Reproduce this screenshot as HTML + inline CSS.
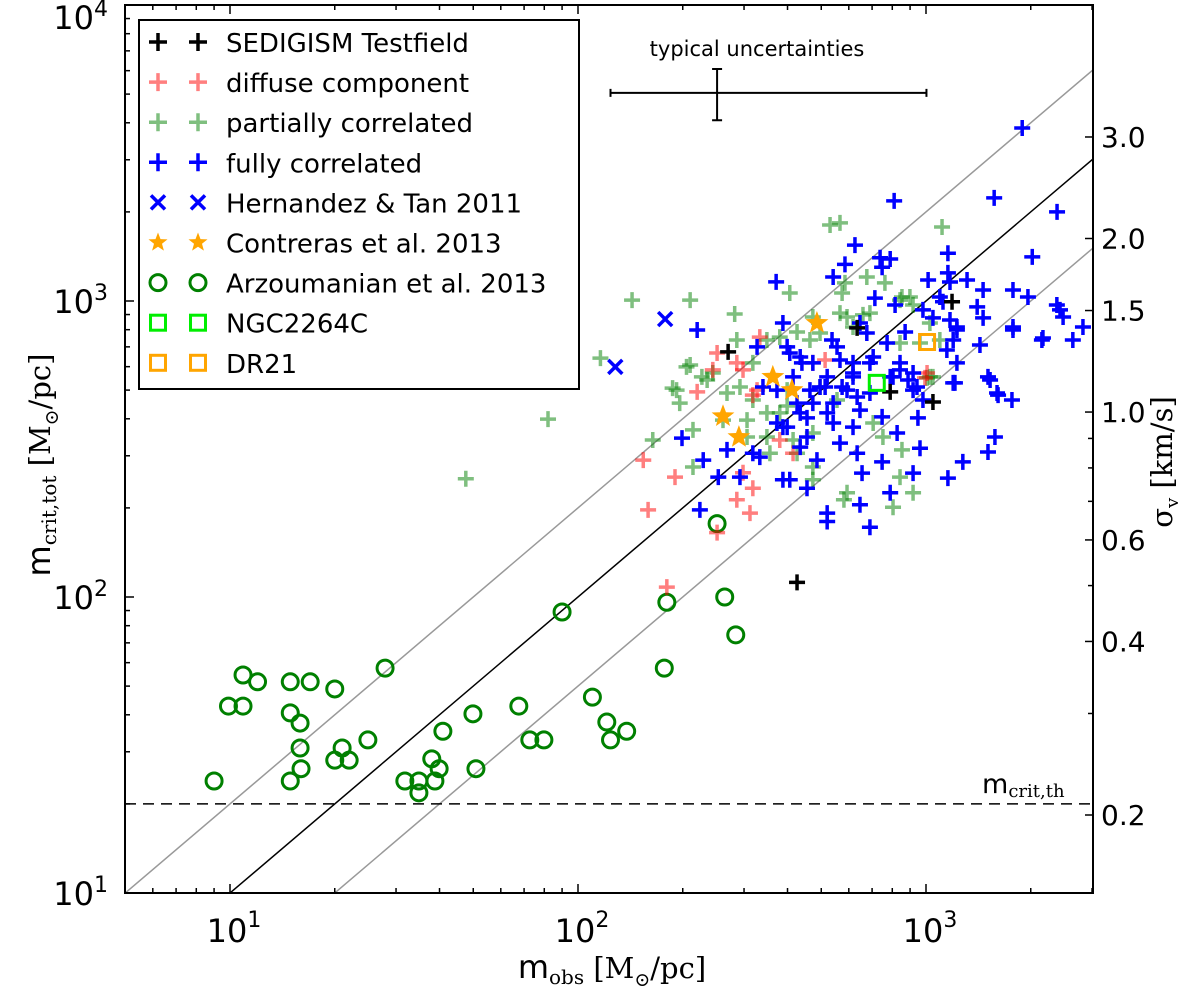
<!DOCTYPE html>
<html><head><meta charset="utf-8">
<style>
html,body{margin:0;padding:0;background:#fff;overflow:hidden;width:1200px;height:995px;}
svg{display:block;}
text{font-family:"DejaVu Sans","Liberation Sans",sans-serif;}
.serif{font-family:"DejaVu Serif","Liberation Serif",serif;}
</style></head>
<body>
<svg id="chart" width="1200" height="995" viewBox="0 0 1200 995" xmlns="http://www.w3.org/2000/svg">
<g id="marks"></g>
<g id="axes"></g>
</svg>
<script>
// ---- data ----
const xTicks = [10, 100, 1000];
const xTickLabels = ["1", "2", "3"];
const yTicks = [10, 100, 1000, 10000];
const yTickLabels = ["1", "2", "3", "4"];
const sigmaTicks = [0.2, 0.4, 0.6, 1.0, 1.5, 2.0, 3.0];
const sigmaTickLabels = ["0.2", "0.4", "0.6", "1.0", "1.5", "2.0", "3.0"];
const sigmaMinor = [0.3, 0.5, 0.7, 0.8, 0.9];
const mcritTh = 20;

const sedigism = [[270,673],[634,811],[1188,994],[1047,456],[789,493],[426,112]];
const diffuse = [[251,667],[333,755],[286,618],[244,585],[298,585],[220,493],[327,500],[473,618],[513,632],[1007,571],[154,290],[190,254],[159,197],[286,213],[312,192],[318,233],[298,263],[251,165],[180,108],[415,306],[380,339],[318,481],[993,550]];
const partial = [[143,1007],[210,1007],[282,904],[116,641],[530,1807],[566,1837],[406,1064],[1112,1778],[585,1151],[676,1205],[762,1151],[574,1064],[853,1032],[899,1032],[593,883],[659,898],[286,738],[210,608],[227,554],[187,508],[426,786],[464,738],[496,780],[1026,554],[961,721],[1096,738],[842,721],[192,500],[196,452],[205,599],[164,339],[214,367],[214,275],[235,541],[261,396],[306,396],[306,347],[318,463],[292,512],[349,419],[349,347],[356,306],[380,419],[415,339],[426,306],[399,442],[473,275],[473,249],[593,225],[581,213],[804,201],[918,225],[842,254],[853,314],[752,347],[705,387],[555,463],[496,512],[473,358],[318,618],[349,738],[380,755],[473,883],[566,910],[617,817],[690,910],[842,1007],[918,969],[1026,843],[1007,550],[1047,554],[399,500],[268,489],[244,571],[82,399],[47.6,251]];
const fully = [[1890,3840],[810,2180],[1570,2230],[2380,2000],[625,1545],[1156,1450],[2020,1410],[585,1330],[738,1400],[789,1387],[748,1300],[371,1160],[541,1205],[1014,1178],[1156,1244],[1172,1159],[1312,1178],[1459,1089],[1778,1089],[1963,1032],[713,1023],[815,969],[1096,1032],[1119,994],[980,933],[1047,877],[1403,955],[1459,877],[2377,969],[2477,883],[2825,817],[1778,817],[2168,750],[2642,738],[1227,817],[1197,738],[1429,710],[1148,683],[1227,618],[1197,529],[1507,554],[1600,489],[1766,463],[220,798],[388,843],[646,843],[676,780],[871,786],[773,721],[537,738],[555,700],[327,700],[399,700],[435,647],[473,618],[617,618],[690,618],[842,618],[918,571],[617,554],[789,554],[942,512],[340,512],[464,500],[513,512],[574,512],[634,474],[1172,863],[1227,798],[1778,798],[2427,933],[2153,738],[1211,529],[1528,541],[1611,481],[1578,347],[1507,309],[1276,286],[1156,252],[961,318],[918,262],[948,403],[826,358],[789,225],[748,406],[748,286],[655,262],[690,172],[646,205],[520,192],[520,180],[455,233],[406,249],[388,249],[486,290],[566,331],[617,375],[634,306],[541,387],[520,419],[455,347],[435,321],[399,375],[373,387],[333,297],[318,306],[292,254],[253,254],[229,290],[268,314],[199,344],[224,197],[373,500],[388,375],[435,419],[473,452],[496,512],[541,452],[593,500],[617,571],[646,428],[690,489],[804,554],[842,585],[888,541],[918,500],[980,463],[705,647],[566,632],[520,554],[415,554],[426,452],[406,667],[440,618],[455,403]];
const hernandez = [[178,869],[128,599]];
const contreras = [[486,843],[363,554],[412,500],[261,408],[290,347]];
const arzoumanian = [[9.0,23.9],[9.9,42.8],[10.9,42.8],[10.9,54.5],[12.0,51.7],[14.9,51.7],[17.0,51.7],[20.0,48.9],[27.9,57.5],[14.9,40.6],[15.9,37.5],[15.9,30.9],[16.0,26.3],[14.9,23.9],[20.0,28.1],[21.0,30.9],[22.0,28.1],[24.9,32.9],[31.8,23.9],[34.9,23.9],[34.9,21.8],[38.0,28.4],[39.9,26.3],[38.8,23.9],[40.9,35.2],[49.9,40.3],[50.9,26.3],[67.6,42.8],[72.7,32.9],[79.8,32.9],[90,89],[110,45.9],[121,37.8],[124,32.9],[138,35.2],[177,57.5],[180,96],[264,100],[284,74.5],[251,177]];
const ngc2264c = [[722,529]];
const dr21 = [[1007,727]];
const uncertaintyCenter = [251, 5050];
const uncertaintyX = [124, 1003];
const uncertaintyY = [4080, 6080];

// ---- scales ----
const L=125, R=1093, T=5, B=893;
const X = v => 230 + (Math.log10(v) - 1) * 348;
const Y = v => B - (Math.log10(v) - 1) * 296;
const S = s => 815 - (Math.log10(s) - Math.log10(0.2)) * 576.5;
const NS = "http://www.w3.org/2000/svg";
const marks = document.getElementById('marks');
const axes = document.getElementById('axes');
function mk(tag, attrs, parent){
  const e = document.createElementNS(NS, tag);
  for (const k in attrs) e.setAttribute(k, attrs[k]);
  (parent||marks).appendChild(e); return e;
}
const defs = mk('defs', {}, document.getElementById('chart'));
const cp = mk('clipPath', {id:'clip'}, defs);
mk('rect', {x:L, y:T, width:R-L, height:B-T}, cp);
marks.setAttribute('clip-path', 'url(#clip)');

function refLine(f, col, name){
  const x0 = 4, x1 = 4000;
  const l = mk('line', {x1:X(x0), y1:Y(f*x0), x2:X(x1), y2:Y(f*x1), stroke:col, 'stroke-width':1.5});
  
  
}
refLine(2, '#999', 'upper-factor-line');
refLine(0.5, '#999', 'lower-factor-line');
refLine(1, '#000', 'one-to-one-line');
const dl = mk('line', {x1:L, y1:Y(mcritTh), x2:R, y2:Y(mcritTh), stroke:'#000', 'stroke-width':1.5, 'stroke-dasharray':'11,7'});



function plus(cx, cy, col, op, g, sz){
  sz = sz || 8;
  return mk('path', {d:`M${cx-sz},${cy}H${cx+sz}M${cx},${cy-sz}V${cy+sz}`, stroke:col, 'stroke-width':3.5, 'stroke-opacity':op, fill:'none'}, g);
}
function cross(cx, cy, col, g){
  return mk('path', {d:`M${cx-7},${cy-7}L${cx+7},${cy+7}M${cx+7},${cy-7}L${cx-7},${cy+7}`, stroke:col, 'stroke-width':3.5, fill:'none'}, g);
}
function star(cx, cy, r, col, g){
  let d = '';
  for (let i=0;i<10;i++){
    const a = -Math.PI/2 + i*Math.PI/5, rr = i%2 ? r*0.42 : r;
    d += (i? 'L':'M') + (cx + rr*Math.cos(a)).toFixed(1) + ',' + (cy + rr*Math.sin(a)).toFixed(1);
  }
  return mk('path', {d:d+'Z', fill:col, stroke:'none'}, g);
}
function circ(cx, cy, col, g){ return mk('circle', {cx:cx, cy:cy, r:8, fill:'none', stroke:col, 'stroke-width':3}, g); }
function sq(cx, cy, col, g){ return mk('rect', {x:cx-7.5, y:cy-7.5, width:15, height:15, fill:'none', stroke:col, 'stroke-width':3}, g); }

function series(name){ const g = mk('g', {});   return g; }

let g;
g = series('arzoumanian-series');
arzoumanian.forEach(p => { const e = circ(X(p[0]), Y(p[1]), '#008000', g);
  
   });
g = series('partially-correlated-series');
partial.forEach(p => { const e = plus(X(p[0]), Y(p[1]), '#008000', 0.5, g);
  
   });
g = series('diffuse-series');
diffuse.forEach(p => { const e = plus(X(p[0]), Y(p[1]), '#ff0000', 0.5, g);
  
   });
g = series('fully-correlated-series');
fully.forEach(p => { const e = plus(X(p[0]), Y(p[1]), '#0000ff', 1, g);
  
   });
g = series('sedigism-series');
sedigism.forEach(p => { const e = plus(X(p[0]), Y(p[1]), '#000', 1, g);
  
   });
g = series('hernandez-series');
hernandez.forEach(p => { const e = cross(X(p[0]), Y(p[1]), '#0000ff', g);
  
   });
g = series('contreras-series');
contreras.forEach(p => { const e = star(X(p[0]), Y(p[1]), 12, '#ffa500', g);
  
   });
g = series('ngc2264c-series');
ngc2264c.forEach(p => { const e = sq(X(p[0]), Y(p[1]), '#00ee00', g);
  
   });
g = series('dr21-series');
dr21.forEach(p => { const e = sq(X(p[0]), Y(p[1]), '#ffa500', g);
  
   });

// uncertainty bar
g = series('typical-uncertainty');
{
  const cx = X(uncertaintyCenter[0]), cy = Y(uncertaintyCenter[1]);
  const xa = X(uncertaintyX[0]), xb = X(uncertaintyX[1]), ya = Y(uncertaintyY[1]), yb = Y(uncertaintyY[0]);
  mk('path', {d:`M${xa},${cy}H${xb}M${xa},${cy-4}V${cy+4}M${xb},${cy-4}V${cy+4}M${cx},${ya}V${yb}M${cx-5},${ya}H${cx+5}M${cx-5},${yb}H${cx+5}`, stroke:'#000', 'stroke-width':2, fill:'none'}, g);
  const t = mk('text', {x:757, y:56, 'font-size':21, 'text-anchor':'middle', fill:'#000'}, g);
  t.textContent = 'typical uncertainties';
  
  
}

// ---- axes ----
mk('rect', {x:L, y:T, width:R-L, height:B-T, fill:'none', stroke:'#000', 'stroke-width':2}, axes);
function tick(x1,y1,x2,y2){ mk('line', {x1:x1,y1:y1,x2:x2,y2:y2,stroke:'#000','stroke-width':1.5}, axes); }
for (let d=0; d<=3; d++){
  for (let m=1; m<=9; m++){
    const v = m*Math.pow(10,d); const px = X(v);
    if (px < L || px > R) continue;
    const len = m===1 ? 9 : 5;
    tick(px, B, px, B-len); tick(px, T, px, T+len);
  }
}
xTicks.forEach((v,i) => {
  const t = mk('text', {x:X(v)+4, y:942, 'font-size':32, 'text-anchor':'middle', fill:'#000'}, axes);
  t.innerHTML = '10<tspan dy="-15" font-size="22">' + xTickLabels[i] + '</tspan>';
  
  
});
for (let d=1; d<=3; d++){
  for (let m=1; m<=9; m++){
    const v = m*Math.pow(10,d); const py = Y(v);
    const len = m===1 ? 9 : 5;
    tick(L, py, L+len, py);
  }
}
yTicks.forEach((v,i) => {
  const t = mk('text', {x:108, y:Math.max(Y(v)+12, 29), 'font-size':32, 'text-anchor':'end', fill:'#000'}, axes);
  t.innerHTML = '10<tspan dy="-13" font-size="22">' + yTickLabels[i] + '</tspan>';
  
  
});
sigmaTicks.forEach((s,i) => {
  tick(R, S(s), R-8, S(s));
  const t = mk('text', {x:1101, y:S(s)+10, 'font-size':28, fill:'#000'}, axes);
  t.textContent = sigmaTickLabels[i];
  
  
});
sigmaMinor.forEach(s => tick(R, S(s), R-5, S(s)));

{
  const t = mk('text', {x:612, y:978, 'font-size':32, 'text-anchor':'middle', fill:'#000'}, axes);
  t.innerHTML = 'm<tspan class="serif" font-size="20" dy="6">obs</tspan><tspan class="serif" font-size="29" dy="-6"> [M</tspan><tspan class="serif" font-size="19" dy="8">⊙</tspan><tspan class="serif" font-size="29" dy="-8">/pc]</tspan>';
  
  
  const y = mk('text', {x:0, y:0, 'font-size':32, 'text-anchor':'middle', fill:'#000', transform:'translate(50,465) rotate(-90)'}, axes);
  y.innerHTML = 'm<tspan class="serif" font-size="20" dy="6">crit,tot</tspan><tspan class="serif" font-size="29" dy="-6"> [M</tspan><tspan class="serif" font-size="19" dy="8">⊙</tspan><tspan class="serif" font-size="29" dy="-8">/pc]</tspan>';
  
  
  const r = mk('text', {x:0, y:0, 'font-size':29, 'text-anchor':'middle', fill:'#000', transform:'translate(1172,462) rotate(-90)'}, axes);
  r.innerHTML = '<tspan class="serif">σ</tspan><tspan class="serif" font-size="18" dy="6">v</tspan><tspan class="serif" dy="-6">  [km/s]</tspan>';
  
  
  const m = mk('text', {x:982, y:793, 'font-size':27, fill:'#000'}, axes);
  m.innerHTML = 'm<tspan class="serif" font-size="18" dy="4">crit,th</tspan>';
  
  
}

// ---- legend ----
const legendLabels = ["SEDIGISM Testfield","diffuse component","partially correlated","fully correlated","Hernandez & Tan 2011","Contreras et al. 2013","Arzoumanian et al. 2013","NGC2264C","DR21"];
const lg = mk('g', {}, axes);


mk('rect', {x:139, y:20, width:440, height:369, fill:'#fff', stroke:'#000', 'stroke-width':2}, lg);
legendLabels.forEach((lab, i) => {
  const y = 42 + i*40.1;
  const row = mk('g', {}, lg);
  
  
  [158, 198].forEach(x => {
    if (i===0) plus(x, y, '#000', 1, row, 9);
    if (i===1) plus(x, y, '#ff0000', 0.5, row, 9);
    if (i===2) plus(x, y, '#008000', 0.5, row, 9);
    if (i===3) plus(x, y, '#0000ff', 1, row, 9);
    if (i===4) cross(x, y, '#0000ff', row);
    if (i===5) star(x, y, 10, '#ffa500', row);
    if (i===6) circ(x, y, '#008000', row);
    if (i===7) sq(x, y, '#00ee00', row);
    if (i===8) sq(x, y, '#ffa500', row);
  });
  const t = mk('text', {x:226, y:y+10, 'font-size':26, fill:'#000'}, row);
  t.textContent = lab;
  
  
});
</script>
</body></html>
